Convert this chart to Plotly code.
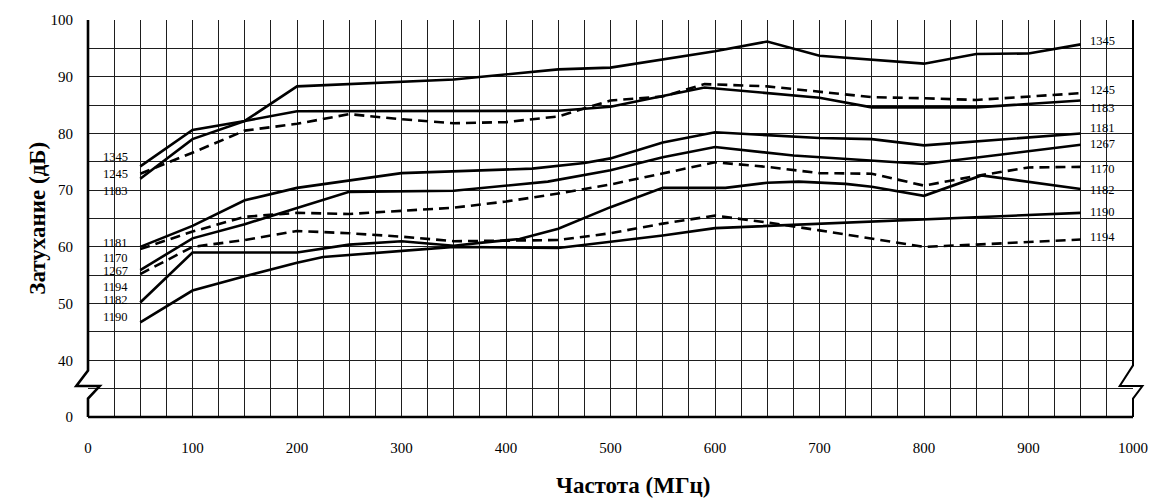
"""
Затухание по частоте для нескольких кабелей (диаграмма с разрывом оси Y).
"""
import plotly.graph_objects as go

# --- данные (МГц, дБ) ---
s1345_x = [50, 100, 150, 200, 350, 450, 500, 600, 650, 700, 800, 850, 900, 950]
s1345_y = [74.2, 80.6, 82.2, 88.3, 89.5, 91.3, 91.6, 94.5, 96.2, 93.7, 92.3, 94.0, 94.1, 95.7]

s1245_x = [50, 100, 150, 200, 250, 300, 350, 400, 450, 500, 550, 590, 650, 700, 750, 800, 850, 950]
s1245_y = [72.9, 76.6, 80.5, 81.7, 83.4, 82.5, 81.8, 82.0, 83.0, 85.8, 86.5, 88.7, 88.3, 87.3, 86.4, 86.2, 85.9, 87.1]

s1183_x = [50, 100, 150, 200, 450, 500, 550, 590, 700, 750, 850, 950]
s1183_y = [72.0, 79.0, 82.2, 83.9, 84.0, 84.7, 86.6, 88.1, 86.3, 84.6, 84.6, 85.8]

s1181_x = [50, 100, 150, 200, 300, 350, 425, 475, 500, 550, 600, 700, 750, 800, 950]
s1181_y = [60.0, 63.7, 68.2, 70.4, 73.0, 73.3, 73.8, 74.8, 75.6, 78.4, 80.2, 79.2, 79.0, 77.9, 80.0]

s1267_x = [50, 100, 150, 200, 250, 350, 440, 500, 550, 600, 675, 800, 950]
s1267_y = [55.9, 61.5, 64.0, 66.9, 69.7, 69.9, 71.5, 73.5, 75.8, 77.6, 76.1, 74.6, 78.0]

s1170_x = [50, 100, 150, 200, 250, 300, 350, 400, 450, 500, 550, 600, 650, 700, 750, 800, 850, 900, 950]
s1170_y = [59.6, 62.7, 65.3, 66.0, 65.8, 66.3, 66.9, 68.0, 69.4, 71.0, 72.9, 74.9, 74.1, 73.0, 72.9, 70.8, 72.5, 74.0, 74.1]

s1182_x = [50, 100, 200, 250, 300, 350, 375, 413, 450, 500, 550, 610, 650, 680, 725, 750, 800, 855, 950]
s1182_y = [50.2, 59.0, 59.0, 60.4, 61.0, 60.2, 60.7, 61.4, 63.2, 67.0, 70.4, 70.4, 71.3, 71.5, 71.1, 70.6, 69.0, 72.6, 70.2]

s1190_x = [50, 100, 150, 200, 225, 350, 450, 550, 600, 650, 800, 950]
s1190_y = [46.7, 52.3, 54.8, 57.2, 58.2, 60.0, 59.8, 62.0, 63.3, 63.7, 64.9, 66.0]

s1194_x = [50, 100, 150, 200, 250, 300, 350, 450, 500, 550, 600, 650, 700, 750, 800, 850, 950]
s1194_y = [55.2, 60.0, 61.2, 62.8, 62.4, 61.8, 61.0, 61.2, 62.4, 64.1, 65.5, 64.3, 62.9, 61.4, 60.0, 60.4, 61.3]

# (имя, x, y, пунктир)
SERIES = [
    ("1345", s1345_x, s1345_y, False),
    ("1245", s1245_x, s1245_y, True),
    ("1183", s1183_x, s1183_y, False),
    ("1181", s1181_x, s1181_y, False),
    ("1267", s1267_x, s1267_y, False),
    ("1170", s1170_x, s1170_y, True),
    ("1182", s1182_x, s1182_y, False),
    ("1190", s1190_x, s1190_y, False),
    ("1194", s1194_x, s1194_y, True),
]

# подписи слева и справа (уровень по оси Y)
left_labels = ["1345", "1245", "1183", "1181", "1170", "1267", "1194", "1182", "1190"]
left_label_y = [75.8, 72.9, 69.8, 60.7, 58.0, 55.7, 53.0, 50.7, 47.6]
right_labels = ["1345", "1245", "1183", "1181", "1267", "1170", "1182", "1190", "1194"]
right_label_y = [96.3, 87.6, 84.4, 80.9, 78.1, 73.8, 70.1, 66.2, 61.7]

# ось Y: 30 на графике соответствует подписи «0» (разрыв оси)
Y_BREAK = 30
y_grid = list(range(30, 101, 5))
y_text = ["0" if v == Y_BREAK else (str(v) if v % 10 == 0 else "") for v in y_grid]
x_grid = list(range(0, 1001, 25))
x_text = [str(v) if v % 100 == 0 else "" for v in x_grid]

FONT = "Liberation Serif, Times New Roman, serif"
INK = "#000000"
GRID = "#1e1e1e"

fig = go.Figure()

for name, xs, ys, dashed in SERIES:
    fig.add_trace(
        go.Scatter(
            x=xs,
            y=ys,
            mode="lines",
            name=name,
            line=dict(color=INK, width=2.6, dash="10px,6px" if dashed else "solid"),
            showlegend=False,
        )
    )

for txt, yv in zip(left_labels, left_label_y):
    fig.add_annotation(x=40, y=yv, text=txt, showarrow=False, xanchor="right",
                       yanchor="middle", font=dict(family=FONT, size=12.5, color=INK))
for txt, yv in zip(right_labels, right_label_y):
    fig.add_annotation(x=957, y=yv, text=txt, showarrow=False, xanchor="left",
                       yanchor="middle", font=dict(family=FONT, size=12.5, color=INK))


def px(x):
    return x / 1000.0


def py(y):
    return (y - Y_BREAK) / 70.0


# рамка с символом разрыва оси
frame = [(0, 100), (0, 38.2), (-11.2, 35.46), (11.2, 35.46), (0, 33.24), (0, 30)]
path_left = "M " + " L ".join(f"{px(a)},{py(b)}" for a, b in frame)
fig.add_shape(type="path", path=path_left, xref="paper", yref="paper",
              line=dict(color=INK, width=2.6), layer="above")
fig.add_shape(type="line", x0=0, x1=1, y0=0, y1=0, xref="paper", yref="paper",
              line=dict(color=INK, width=2.6), layer="above")
frame_r = [(1000, 100), (1000, 39.1), (987.3, 35.46), (1009, 35.46), (1000, 33.24), (1000, 30)]
path_right = "M " + " L ".join(f"{px(a)},{py(b)}" for a, b in frame_r)
fig.add_shape(type="path", path=path_right, xref="paper", yref="paper",
              line=dict(color=INK, width=2), layer="above")

fig.add_annotation(x=0.522, y=-0.172, xref="paper", yref="paper", text="<b>Частота (МГц)</b>",
                   showarrow=False, yanchor="middle", font=dict(family=FONT, size=23, color=INK))
fig.add_annotation(x=-0.0625, y=0.5, xref="paper", yref="paper", text="<b>Затухание (дБ)</b>",
                   textangle=-90, showarrow=False, font=dict(family=FONT, size=23, color=INK))

fig.update_xaxes(
    range=[0, 1000],
    tickvals=x_grid,
    ticktext=x_text,
    showgrid=True,
    gridcolor=GRID,
    gridwidth=1,
    zeroline=False,
    showline=False,
    ticks="",
    automargin=False,
    ticklabelstandoff=20,
    tickfont=dict(family=FONT, size=15, color=INK),
)
fig.update_yaxes(
    range=[Y_BREAK, 100],
    tickvals=y_grid,
    ticktext=y_text,
    showgrid=True,
    gridcolor=GRID,
    gridwidth=1,
    zeroline=False,
    showline=False,
    ticks="",
    automargin=False,
    ticklabelstandoff=14,
    tickfont=dict(family=FONT, size=15, color=INK),
)
fig.update_layout(
    width=1151,
    height=498,
    margin=dict(l=88, r=18, t=20, b=81),
    paper_bgcolor="white",
    plot_bgcolor="white",
    showlegend=False,
)

# убрать поля страницы, чтобы график встал ровно в окно; без панели инструментов
fig.write_html(
    "out.html",
    config={"displayModeBar": False},
    post_script="document.body.style.margin='0';",
)
